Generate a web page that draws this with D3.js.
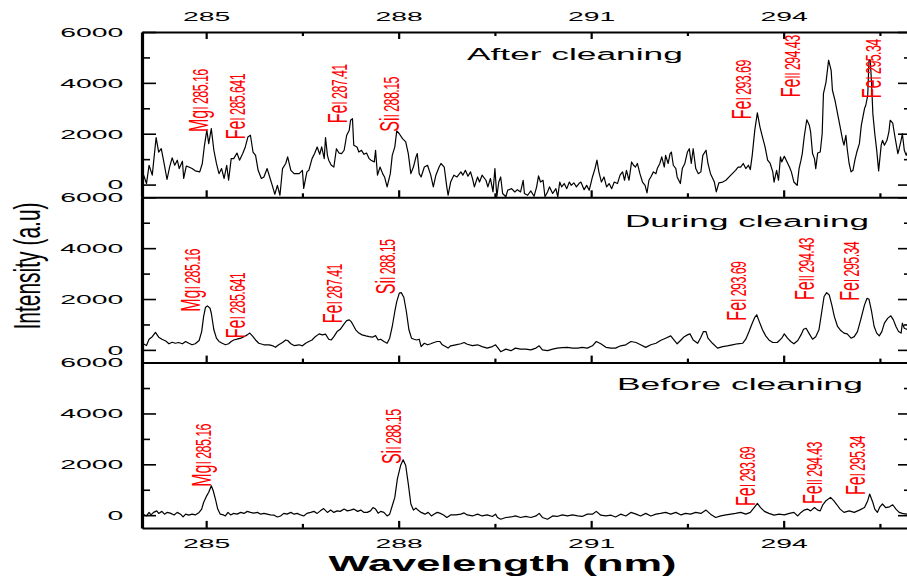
<!DOCTYPE html>
<html lang="en">
<head>
    <meta charset="UTF-8">
    <title>Spectra before, during and after cleaning</title>
    <script src="https://cdn.jsdelivr.net/npm/d3@7"></script>
    <style>
        body { margin: 0; background: #fff; }
        #chart { width: 907px; height: 579px; }
        text { font-family: "Liberation Sans", Arial, sans-serif; }
    </style>
</head>
<body>
<div id="chart"></div>
<script type="text/javascript">
    // tick values
    var xTicks = [285, 288, 291, 294];
    var xMinor = [286.5, 289.5, 292.5, 295.5];
    var yTicks = [0, 2000, 4000, 6000];
    var yMinor = [1000, 3000, 5000];

    var panelNames = ['After cleaning', 'During cleaning', 'Before cleaning'];

    // [wavelength nm, intensity a.u]
    var afterCleaning = [
        [284.00,560],[284.07,40],[284.11,760],[284.16,370],[284.22,1850],[284.26,1280],[284.30,1410],[284.34,890],
        [284.39,200],[284.43,690],[284.47,1050],[284.51,760],[284.55,960],[284.58,630],[284.63,920],[284.65,240],
        [284.69,730],[284.73,690],[284.78,630],[284.83,540],[284.90,500],[284.94,830],[284.97,1480],[285.01,2140],
        [285.04,1610],[285.08,2200],[285.12,1350],[285.16,830],[285.20,430],[285.24,630],[285.28,240],[285.32,760],
        [285.35,170],[285.39,1020],[285.43,1020],[285.48,1240],[285.52,960],[285.57,1220],[285.61,1480],[285.65,1870],
        [285.69,1940],[285.73,1280],[285.77,1150],[285.81,560],[285.86,240],[285.90,300],[285.95,630],[285.99,300],
        [286.03,-30],[286.07,-380],[286.11,-30],[286.15,-420],[286.19,630],[286.24,830],[286.27,1090],[286.32,560],
        [286.37,430],[286.45,430],[286.50,560],[286.52,-150],[286.57,500],[286.60,560],[286.65,1020],[286.69,1220],
        [286.73,1480],[286.77,1190],[286.80,1480],[286.84,1020],[286.86,1850],[286.89,1150],[286.91,960],[286.95,760],
        [286.99,690],[287.03,1410],[287.07,1240],[287.11,1220],[287.15,1350],[287.19,1940],[287.23,2140],[287.25,2530],
        [287.28,2590],[287.30,1550],[287.35,1480],[287.38,1280],[287.42,1350],[287.46,1190],[287.50,1240],[287.54,1020],
        [287.57,960],[287.62,890],[287.64,1350],[287.67,370],[287.71,690],[287.75,430],[287.78,300],[287.82,-90],
        [287.87,430],[287.90,1150],[287.94,1480],[287.97,2110],[288.01,2000],[288.06,1810],[288.11,1680],[288.15,1220],
        [288.19,430],[288.23,690],[288.27,1090],[288.29,1220],[288.32,430],[288.35,300],[288.40,690],[288.45,760],
        [288.50,370],[288.54,-90],[288.58,370],[288.63,690],[288.66,830],[288.71,690],[288.75,-90],[288.77,-420],
        [288.81,100],[288.86,370],[288.91,300],[288.97,500],[289.00,370],[289.04,560],[289.08,330],[289.12,500],
        [289.15,240],[289.18,-90],[289.23,300],[289.26,100],[289.30,370],[289.36,170],[289.39,-90],[289.43,240],
        [289.47,-290],[289.50,630],[289.53,-480],[289.56,100],[289.59,300],[289.62,-350],[289.67,-480],[289.70,-220],
        [289.76,-160],[289.81,-290],[289.85,-200],[289.90,-290],[289.94,170],[289.96,-350],[290.01,-420],[290.06,-250],
        [290.11,-460],[290.15,-90],[290.18,340],[290.21,100],[290.25,170],[290.28,-480],[290.32,-290],[290.35,-90],
        [290.40,-350],[290.45,-160],[290.48,-480],[290.51,100],[290.54,-90],[290.58,40],[290.62,-160],[290.66,100],
        [290.69,-30],[290.73,70],[290.77,-90],[290.81,40],[290.84,100],[290.89,-200],[290.93,-30],[290.97,-220],
        [291.02,300],[291.06,630],[291.09,960],[291.12,500],[291.16,100],[291.20,300],[291.24,-90],[291.28,40],
        [291.32,-160],[291.36,100],[291.41,40],[291.45,370],[291.49,500],[291.52,170],[291.55,560],[291.59,170],
        [291.63,890],[291.66,760],[291.69,690],[291.72,830],[291.76,430],[291.80,100],[291.84,-30],[291.87,-330],
        [291.90,170],[291.93,300],[291.97,500],[292.01,430],[292.03,630],[292.07,830],[292.10,1090],[292.14,690],
        [292.16,1150],[292.20,830],[292.23,1220],[292.25,1280],[292.28,760],[292.32,630],[292.34,300],[292.39,40],
        [292.42,630],[292.46,830],[292.50,1280],[292.53,1410],[292.56,830],[292.59,1410],[292.63,630],[292.67,430],
        [292.71,500],[292.74,1150],[292.79,1350],[292.82,830],[292.86,430],[292.92,100],[292.95,-290],[292.99,70],
        [293.05,100],[293.10,170],[293.15,300],[293.20,430],[293.25,560],[293.29,690],[293.33,690],[293.37,830],
        [293.41,630],[293.45,760],[293.48,590],[293.51,1150],[293.55,2140],[293.59,2820],[293.63,2270],[293.67,1870],
        [293.71,1480],[293.75,960],[293.79,830],[293.83,500],[293.85,100],[293.89,560],[293.92,170],[293.95,1090],
        [293.97,890],[294.01,1110],[294.04,960],[294.09,690],[294.12,500],[294.16,100],[294.21,-30],[294.24,630],
        [294.27,960],[294.29,1220],[294.32,1870],[294.36,2550],[294.40,2330],[294.42,2070],[294.45,1220],[294.48,1020],
        [294.50,630],[294.53,1240],[294.57,1280],[294.60,2000],[294.62,3580],[294.66,4030],[294.70,4890],[294.74,4490],
        [294.76,3710],[294.80,3310],[294.84,2790],[294.88,2270],[294.92,1740],[294.94,1550],[294.97,1940],[294.99,1410],
        [295.02,830],[295.05,500],[295.08,560],[295.11,960],[295.14,1280],[295.18,1610],[295.21,2330],[295.26,2990],
        [295.28,3120],[295.31,3510],[295.33,4910],[295.35,4890],[295.37,3970],[295.39,2790],[295.42,2000],[295.45,1350],
        [295.48,540],[295.52,1550],[295.54,1740],[295.57,1550],[295.61,1740],[295.64,2070],[295.66,2530],[295.70,2420],
        [295.73,1940],[295.78,1220],[295.80,1410],[295.83,1740],[295.85,2000],[295.88,1350],[295.91,1150],[295.94,1350]
    ];

    var duringCleaning = [
        [284.02,240],[284.07,170],[284.11,420],[284.16,520],[284.21,690],[284.26,500],[284.31,420],[284.37,350],
        [284.42,240],[284.47,300],[284.52,260],[284.57,290],[284.63,240],[284.68,330],[284.73,260],[284.78,200],
        [284.83,240],[284.89,370],[284.93,720],[284.96,1310],[284.99,1680],[285.02,1730],[285.06,1640],[285.08,1440],
        [285.12,790],[285.16,460],[285.20,330],[285.25,260],[285.30,200],[285.35,240],[285.39,330],[285.43,390],
        [285.48,420],[285.54,460],[285.59,520],[285.64,590],[285.68,660],[285.72,550],[285.77,390],[285.82,260],
        [285.90,200],[285.98,200],[286.03,170],[286.08,100],[286.13,200],[286.19,290],[286.24,390],[286.27,370],
        [286.32,240],[286.37,170],[286.45,200],[286.50,160],[286.55,260],[286.60,330],[286.65,390],[286.70,520],
        [286.76,630],[286.81,590],[286.86,620],[286.91,420],[286.95,390],[286.99,520],[287.04,720],[287.09,810],
        [287.15,1020],[287.19,1150],[287.23,1180],[287.26,1110],[287.29,980],[287.33,790],[287.38,660],[287.43,590],
        [287.49,550],[287.54,520],[287.59,500],[287.64,560],[287.68,390],[287.72,420],[287.77,330],[287.82,260],
        [287.86,460],[287.90,920],[287.94,1510],[287.97,1900],[288.01,2230],[288.04,2250],[288.08,2070],[288.12,1510],
        [288.16,790],[288.20,460],[288.24,420],[288.28,390],[288.32,420],[288.35,130],[288.40,260],[288.45,200],
        [288.50,240],[288.55,290],[288.60,330],[288.64,330],[288.68,200],[288.73,130],[288.77,70],[288.81,160],
        [288.89,200],[288.97,240],[289.02,290],[289.07,220],[289.15,170],[289.23,200],[289.30,130],[289.38,70],
        [289.46,130],[289.51,200],[289.55,70],[289.59,-70],[289.67,30],[289.75,-30],[289.82,70],[289.90,30],
        [289.98,30],[290.06,0],[290.14,70],[290.19,160],[290.24,0],[290.32,-30],[290.40,30],[290.47,70],
        [290.55,90],[290.63,100],[290.71,70],[290.79,70],[290.86,100],[290.94,70],[291.02,160],[291.08,330],
        [291.15,240],[291.23,100],[291.31,70],[291.38,70],[291.46,160],[291.54,200],[291.62,330],[291.70,290],
        [291.77,200],[291.85,100],[291.93,200],[292.01,260],[292.08,370],[292.16,460],[292.24,550],[292.29,390],
        [292.34,240],[292.40,390],[292.45,520],[292.50,590],[292.54,630],[292.59,390],[292.66,260],[292.71,500],
        [292.75,720],[292.79,720],[292.82,460],[292.89,260],[292.97,70],[293.05,130],[293.12,160],[293.20,200],
        [293.28,240],[293.36,260],[293.41,420],[293.46,720],[293.51,1050],[293.55,1280],[293.58,1380],[293.62,1110],
        [293.67,790],[293.72,550],[293.77,390],[293.83,290],[293.90,290],[293.97,460],[294.01,630],[294.06,460],
        [294.11,330],[294.16,240],[294.22,370],[294.27,590],[294.31,810],[294.35,850],[294.40,630],[294.45,420],
        [294.50,520],[294.55,790],[294.59,1440],[294.63,2100],[294.67,2250],[294.71,2160],[294.75,1770],[294.79,1310],
        [294.84,920],[294.89,760],[294.94,660],[294.99,630],[295.05,460],[295.10,520],[295.15,720],[295.20,1180],
        [295.26,1770],[295.30,2030],[295.33,1990],[295.37,1510],[295.41,920],[295.45,660],[295.49,550],[295.53,720],
        [295.57,1050],[295.62,1240],[295.67,1340],[295.71,1180],[295.75,920],[295.79,720],[295.83,660],[295.85,1050],
        [295.88,850],[295.94,790]
    ];

    var beforeCleaning = [
        [284.02,40],[284.07,-30],[284.11,110],[284.14,10],[284.18,110],[284.23,170],[284.26,70],[284.31,150],
        [284.35,40],[284.39,110],[284.44,80],[284.50,10],[284.55,110],[284.60,40],[284.64,-70],[284.68,40],
        [284.73,0],[284.78,40],[284.83,10],[284.89,110],[284.93,240],[284.96,500],[285.01,770],[285.04,900],
        [285.08,1160],[285.11,960],[285.15,570],[285.18,240],[285.22,40],[285.27,10],[285.30,-30],[285.34,110],
        [285.38,10],[285.43,70],[285.48,40],[285.54,110],[285.59,70],[285.64,150],[285.69,110],[285.74,80],
        [285.80,110],[285.85,40],[285.90,70],[285.95,40],[286.00,10],[286.06,0],[286.11,-70],[286.16,-30],
        [286.21,70],[286.26,40],[286.32,110],[286.37,40],[286.42,70],[286.47,10],[286.52,-30],[286.57,70],
        [286.63,110],[286.68,150],[286.73,70],[286.78,170],[286.83,260],[286.89,110],[286.94,200],[286.99,110],
        [287.04,170],[287.09,150],[287.15,240],[287.20,170],[287.25,200],[287.30,240],[287.36,150],[287.41,200],
        [287.46,110],[287.51,110],[287.56,170],[287.60,300],[287.64,240],[287.68,80],[287.72,150],[287.77,110],
        [287.82,-30],[287.86,40],[287.90,370],[287.94,700],[287.98,1430],[288.03,1950],[288.07,2180],[288.11,1950],
        [288.15,1230],[288.19,440],[288.23,200],[288.27,280],[288.30,200],[288.35,110],[288.41,40],[288.46,110],
        [288.51,-30],[288.55,40],[288.60,110],[288.64,80],[288.70,10],[288.75,-90],[288.81,10],[288.89,10],
        [288.97,40],[289.02,90],[289.07,10],[289.15,-30],[289.23,40],[289.30,-30],[289.38,10],[289.46,-50],
        [289.51,40],[289.54,-90],[289.59,-160],[289.67,-90],[289.75,-70],[289.82,-30],[289.90,-90],[289.98,-50],
        [290.06,-90],[290.14,-30],[290.19,70],[290.24,-90],[290.32,-160],[290.40,-30],[290.47,-50],[290.55,10],
        [290.63,-30],[290.71,10],[290.79,-30],[290.86,-50],[290.94,40],[291.02,40],[291.08,150],[291.15,0],
        [291.23,-30],[291.31,0],[291.38,-70],[291.46,40],[291.54,-30],[291.62,110],[291.70,40],[291.77,-30],
        [291.85,70],[291.93,-30],[292.01,40],[292.08,70],[292.16,110],[292.24,40],[292.32,110],[292.40,10],
        [292.47,70],[292.55,40],[292.63,110],[292.71,70],[292.79,200],[292.86,40],[292.94,-90],[293.02,-30],
        [293.10,10],[293.18,40],[293.25,70],[293.33,110],[293.41,40],[293.48,110],[293.54,300],[293.59,460],
        [293.64,300],[293.70,150],[293.77,70],[293.85,0],[293.93,40],[294.01,10],[294.09,70],[294.16,110],
        [294.22,-30],[294.27,110],[294.32,200],[294.37,240],[294.42,170],[294.48,300],[294.53,200],[294.57,170],
        [294.61,410],[294.66,570],[294.73,700],[294.78,570],[294.83,410],[294.88,240],[294.94,110],[295.02,170],
        [295.10,110],[295.18,200],[295.26,300],[295.31,570],[295.34,830],[295.39,500],[295.42,240],[295.46,110],
        [295.50,330],[295.54,440],[295.59,300],[295.65,330],[295.70,410],[295.75,240],[295.80,110],[295.85,70],
        [295.91,40],[295.94,70]
    ];

    // emission line labels and where each one starts (nm, intensity)
    var afterLines = ['MgI 285.16', 'FeI 285.641', 'FeI 287.41', 'SiI 288.15', 'FeI 293.69', 'FeII 294.43', 'FeI 295.34'];
    var afterLineAt = [[285.03,2070],[285.61,1780],[287.19,2410],[288.00,2080],[293.49,2570],[294.26,3430],[295.51,3390]];
    var duringLines = ['MgI 285.16', 'FeI 285.641', 'FeI 287.41', 'SiI 288.15', 'FeI 293.69', 'FeII 294.43', 'FeI 295.34'];
    var duringLineAt = [[284.91,1500],[285.61,460],[287.12,1050],[287.95,2190],[293.42,1150],[294.48,1960],[295.17,1930]];
    var beforeLines = ['MgI 285.16', 'SiI 288.15', 'FeI 293.69', 'FeII 294.43', 'FeI 295.34'];
    var beforeLineAt = [[285.07,1120],[288.03,2010],[293.55,360],[294.60,440],[295.27,790]];

    var svgw = 907;
    var svgh = 579;
    var left = 142, right = 912;   // right frame falls just outside the picture
    var top0 = 32, ph = 165.3;
    var sx = 2.1;                  // the original figure is stretched sideways

    var svg = d3.select('#chart')
        .append('svg')
        .attr('width', svgw)
        .attr('height', svgh);

    var x = d3.scaleLinear().domain([284, 296]).range([left, right]);

    var panels = [
        {name: panelNames[0], data: afterCleaning, lines: afterLines, at: afterLineAt, tx: 467, ty: 59.5, tw: 216},
        {name: panelNames[1], data: duringCleaning, lines: duringLines, at: duringLineAt, tx: 625, ty: 226.5, tw: 244},
        {name: panelNames[2], data: beforeCleaning, lines: beforeLines, at: beforeLineAt, tx: 617, ty: 389.5, tw: 246}
    ];

    function stretchTicks(g, dx) {
        g.selectAll('.tick text')
            .attr('font-size', 13.5)
            .attr('transform', 'scale(' + sx + ',1)');
        if (dx !== undefined) g.selectAll('.tick text').attr('x', dx / sx);
    }

    panels.forEach(function (p, i) {
        var t = top0 + i * ph;
        var y = d3.scaleLinear().domain([-500, 6000]).range([t + ph, t]);
        var g = svg.append('g');

        g.append('clipPath').attr('id', 'clip' + i)
            .append('rect')
            .attr('x', left).attr('y', t)
            .attr('width', right - left).attr('height', ph);

        g.append('path')
            .datum(p.data)
            .attr('clip-path', 'url(#clip' + i + ')')
            .attr('fill', 'none')
            .attr('stroke', '#000')
            .attr('stroke-width', 1.2)
            .attr('stroke-linejoin', 'round')
            .attr('d', d3.line()
                .x(function (d) { return x(d[0]); })
                .y(function (d) { return y(d[1]); }));

        // left axis
        var yl = g.append('g')
            .attr('transform', 'translate(' + left + ',0)')
            .call(d3.axisLeft(y).tickValues(yTicks).tickSize(-14).tickSizeOuter(0)
                .tickPadding(18.7).tickFormat(d3.format('d')));
        yl.select('.domain').attr('stroke-width', 3.2);
        yl.selectAll('.tick line').attr('stroke-width', 1.6);
        stretchTicks(yl, -18.7);
        g.append('g')
            .attr('transform', 'translate(' + left + ',0)')
            .call(d3.axisLeft(y).tickValues(yMinor).tickSize(-8).tickSizeOuter(0).tickFormat(''))
            .call(function (a) { a.select('.domain').remove(); a.selectAll('line').attr('stroke-width', 1.6); });

        // right axis
        var yr = g.append('g')
            .attr('transform', 'translate(' + right + ',0)')
            .call(d3.axisRight(y).tickValues(yTicks).tickSize(-14).tickSizeOuter(0).tickFormat(''));
        yr.select('.domain').attr('stroke-width', 3.2);
        yr.selectAll('line').attr('stroke-width', 1.6);
        g.append('g')
            .attr('transform', 'translate(' + right + ',0)')
            .call(d3.axisRight(y).tickValues(yMinor).tickSize(-8).tickSizeOuter(0).tickFormat(''))
            .call(function (a) { a.select('.domain').remove(); a.selectAll('line').attr('stroke-width', 1.6); });

        // bottom axis, labels only under the last panel
        var xb = g.append('g')
            .attr('transform', 'translate(0,' + (t + ph) + ')')
            .call(d3.axisBottom(x).tickValues(xTicks).tickSize(-7).tickSizeOuter(0).tickPadding(10.8)
                .tickFormat(i === panels.length - 1 ? d3.format('d') : ''));
        xb.select('.domain').attr('stroke-width', 2);
        xb.selectAll('.tick line').attr('stroke-width', 2.2);
        stretchTicks(xb);
        g.append('g')
            .attr('transform', 'translate(0,' + (t + ph) + ')')
            .call(d3.axisBottom(x).tickValues(xMinor).tickSize(-4).tickSizeOuter(0).tickFormat(''))
            .call(function (a) { a.select('.domain').remove(); a.selectAll('line').attr('stroke-width', 2.2); });

        // top axis on the first panel
        if (i === 0) {
            var xt = g.append('g')
                .attr('transform', 'translate(0,' + t + ')')
                .call(d3.axisTop(x).tickValues(xTicks).tickSize(-7).tickSizeOuter(0).tickPadding(11.3)
                    .tickFormat(d3.format('d')));
            xt.select('.domain').attr('stroke-width', 2);
            xt.selectAll('.tick line').attr('stroke-width', 2.2);
            stretchTicks(xt);
            g.append('g')
                .attr('transform', 'translate(0,' + t + ')')
                .call(d3.axisTop(x).tickValues(xMinor).tickSize(-4).tickSizeOuter(0).tickFormat(''))
                .call(function (a) { a.select('.domain').remove(); a.selectAll('line').attr('stroke-width', 2.2); });
        }

        // panel title
        var tt = g.append('text')
            .attr('font-size', 17)
            .attr('fill', '#000')
            .text(p.name);
        var tw = tt.node().getComputedTextLength();
        tt.attr('transform', 'translate(' + p.tx + ',' + p.ty + ') scale(' + (p.tw / tw) + ',1)');

        // red line labels
        p.lines.forEach(function (s, k) {
            var m = s.match(/^([A-Z][a-z]?)(I+ .*)$/);
            var gl = g.append('g')
                .attr('transform', 'translate(' + x(p.at[k][0]) + ',' + y(p.at[k][1]) + ') scale(1.7,1) rotate(-90)');
            var tx = gl.append('text').attr('fill', '#ff0000');
            tx.append('tspan').attr('font-size', 16).text(m[1]);
            tx.append('tspan').attr('font-size', 12.5).attr('letter-spacing', -0.6).text(m[2]);
        });
    });

    // axis titles
    var xl = svg.append('text')
        .attr('font-size', 22)
        .attr('font-weight', 'bold')
        .attr('text-anchor', 'middle')
        .text('Wavelength (nm)');
    var xw = xl.node().getComputedTextLength();
    xl.attr('transform', 'translate(502.5,571) scale(' + (348 / xw) + ',1)');

    svg.append('text')
        .attr('font-size', 21)
        .attr('text-anchor', 'middle')
        .attr('transform', 'translate(40.3,266) scale(1.8,1) rotate(-90)')
        .text('Intensity (a.u)');
</script>
</body>
</html>
